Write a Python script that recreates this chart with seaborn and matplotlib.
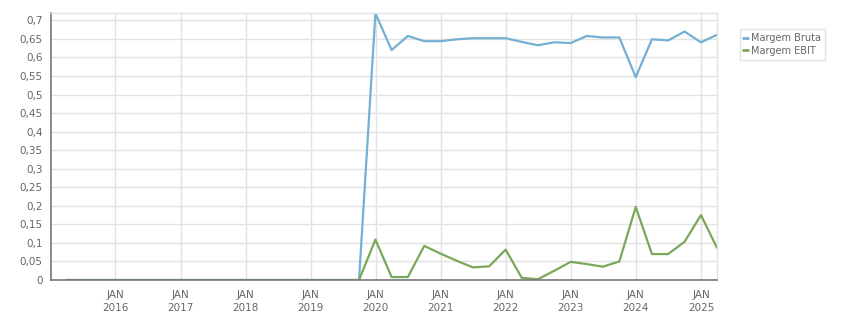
import matplotlib
matplotlib.use("Agg")
import matplotlib.pyplot as plt
import matplotlib.dates as mdates
import seaborn as sns
import pandas as pd
import numpy as np

# Quarter-end dates
quarters = pd.date_range("2015-03-31", "2025-03-31", freq="QE")

margem_bruta_tail = [0.0, 0.719, 0.620, 0.658, 0.644, 0.644, 0.649, 0.652, 0.652, 0.652,
                     0.642, 0.633, 0.641, 0.639, 0.658, 0.654, 0.654, 0.547, 0.649,
                     0.646, 0.670, 0.641, 0.661]
margem_ebit_tail = [0.0, 0.109, 0.008, 0.008, 0.092, 0.071, 0.052, 0.034, 0.037, 0.082,
                    0.006, 0.002, 0.025, 0.049, 0.043, 0.036, 0.050, 0.197, 0.070,
                    0.070, 0.103, 0.175, 0.087]
n_zero = len(quarters) - len(margem_bruta_tail)
margem_bruta = [0.0] * n_zero + margem_bruta_tail
margem_ebit = [0.0] * n_zero + margem_ebit_tail

series_names = ["Margem Bruta", "Margem EBIT"]
colors = ["#74afd4", "#7aa75a"]
year_ticks = list(range(2016, 2026))
y_ticks = [round(0.05 * i, 2) for i in range(15)]

df = pd.DataFrame({
    "date": list(quarters) * 2,
    "value": margem_bruta + margem_ebit,
    "serie": [series_names[0]] * len(quarters) + [series_names[1]] * len(quarters),
})

sns.set_style("white")
plt.rcParams["font.family"] = ["DejaVu Sans"]

fig = plt.figure(figsize=(8.51, 3.13), dpi=100)
ax = fig.add_axes([0.0599, 0.1054, 0.7826, 0.8531])

sns.lineplot(data=df, x="date", y="value", hue="serie", palette=colors,
             linewidth=1.6, ax=ax, legend=True)

ax.set_xlim(pd.Timestamp("2015-01-05"), quarters[-1])
ax.set_ylim(0, 0.72)

ax.set_xticks([pd.Timestamp(f"{y}-01-01") for y in year_ticks])
ax.set_xticklabels([f"JAN\n{y}" for y in year_ticks], linespacing=1.35)
ax.set_yticks(y_ticks)
ax.set_yticklabels(["0" if v == 0 else f"{v:g}".replace(".", ",") for v in y_ticks])

ax.grid(True, color="#e2e2e2", linewidth=1)
ax.set_axisbelow(True)
ax.tick_params(axis="both", which="both", length=4, width=1, color="#777777",
               labelcolor="#666666", labelsize=7.5, pad=2, direction="out")
ax.tick_params(axis="x", pad=3)
ax.set_xlabel("")
ax.set_ylabel("")
for s in ["left", "bottom"]:
    ax.spines[s].set_color("#777777")
    ax.spines[s].set_linewidth(1.2)
for s in ["top", "right"]:
    ax.spines[s].set_color("#e2e2e2")
    ax.spines[s].set_linewidth(1)

handles, labels = ax.get_legend_handles_labels()
leg = ax.legend(handles, labels, loc="upper left", bbox_to_anchor=(0.869, 0.906),
                bbox_transform=fig.transFigure, frameon=True, fontsize=7,
                handlelength=0.5, handletextpad=0.3, borderpad=0.4,
                labelspacing=0.25, fancybox=False, labelcolor="#666666",
                borderaxespad=0)
leg.get_frame().set_edgecolor("#dddddd")
leg.get_frame().set_linewidth(1)
for line in leg.get_lines():
    line.set_linewidth(2)

fig.savefig("out.png", dpi=100)
